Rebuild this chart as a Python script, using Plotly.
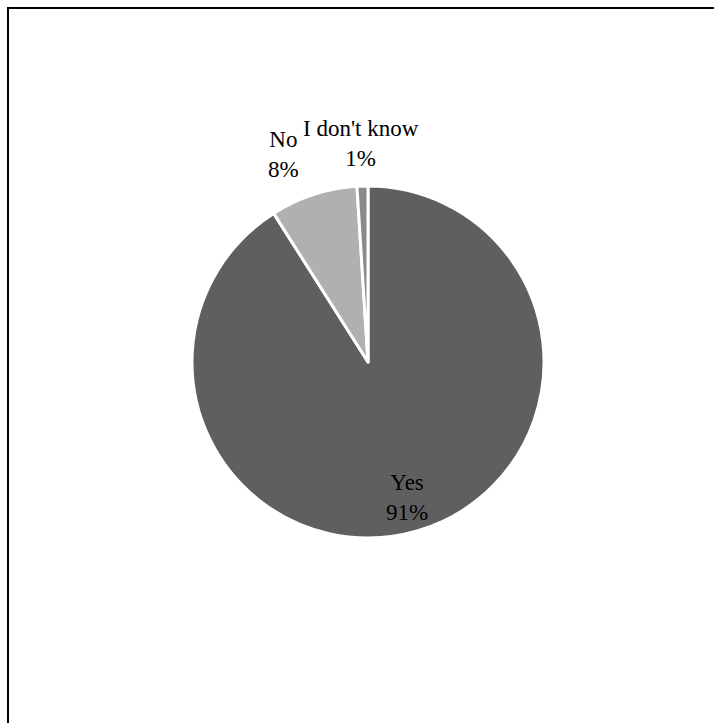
import math
import plotly.graph_objects as go

# Survey answers and their shares (%)
categories = ["Yes", "No", "I don't know"]
shares = [91, 8, 1]
slice_colors = ["#5f5f5f", "#b0b0b0", "#8a8a8a"]

W, H = 714, 723
CX, CY, R = 368, 362, 176          # pie centre / radius in page pixels
FONT = dict(family="Liberation Serif, Times New Roman, serif", size=23, color="#000000")

fig = go.Figure(
    go.Pie(
        labels=categories,
        values=shares,
        sort=False,
        direction="clockwise",
        rotation=0,
        marker=dict(colors=slice_colors, line=dict(color="#ffffff", width=3)),
        textinfo="none",
        hoverinfo="label+percent",
        showlegend=False,
        domain=dict(
            x=[(CX - R) / W, (CX + R) / W],
            y=[(H - CY - R) / H, (H - CY + R) / H],
        ),
    )
)

# Data labels: category name and rounded share, placed along each slice's mid-angle
total = sum(shares)
annotations = []
cum = 0.0
for name, v in zip(categories, shares):
    frac = v / total
    mid = (cum + frac / 2) * 2 * math.pi   # clockwise from 12 o'clock
    cum += frac
    inside = frac > 0.25
    k = 0.8 if inside else 1.24
    sx, sy = math.sin(mid), -math.cos(mid)
    px = CX + k * R * sx
    py = CY + k * R * sy
    if inside or abs(sx) < 0.1:
        xa = "center"
    else:
        xa = "right" if sx < 0 else "left"
    annotations.append(
        dict(
            x=px / W, y=1 - py / H, xref="paper", yref="paper",
            text=f"{name}<br>{round(frac * 100)}%",
            showarrow=False, xanchor=xa, yanchor="middle",
            align="center", font=FONT,
        )
    )

# Chart frame (top and left edges visible in the page)
shapes = [
    dict(type="line", xref="paper", yref="paper",
         x0=7 / W, x1=1.01, y0=1 - 8 / H, y1=1 - 8 / H,
         line=dict(color="#000000", width=2)),
    dict(type="line", xref="paper", yref="paper",
         x0=8 / W, x1=8 / W, y0=-0.01, y1=1 - 7 / H,
         line=dict(color="#000000", width=2)),
]

fig.update_layout(
    width=W, height=H,
    margin=dict(l=0, r=0, t=0, b=0),
    paper_bgcolor="#ffffff",
    plot_bgcolor="#ffffff",
    annotations=annotations,
    shapes=shapes,
)

fig.write_html("out.html")
